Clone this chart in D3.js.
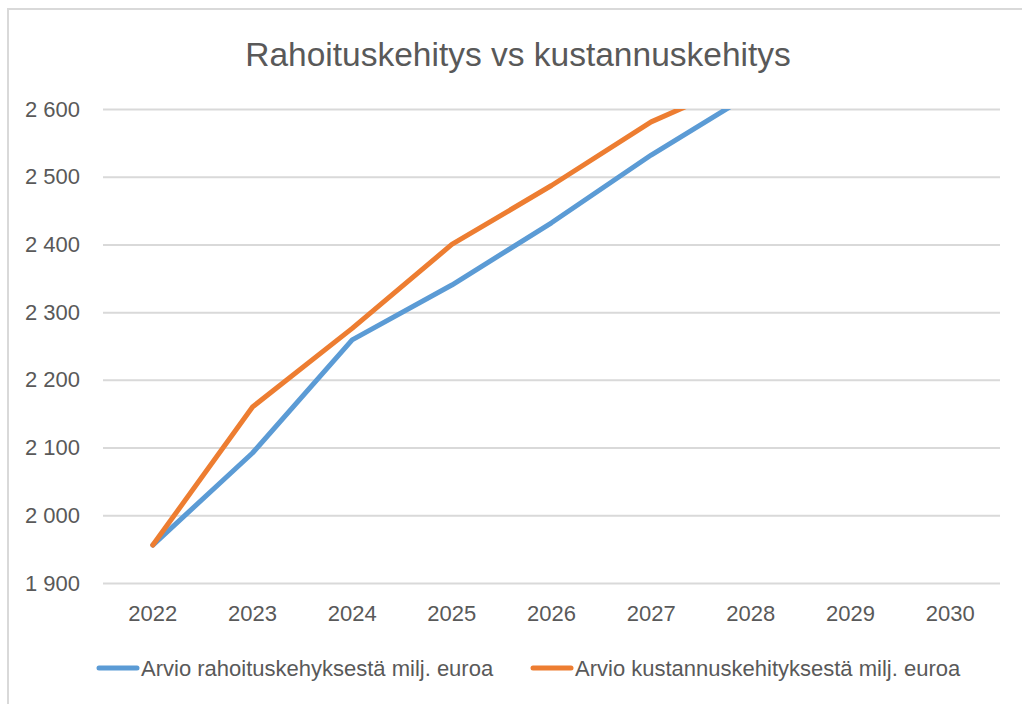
<!DOCTYPE html>
<html>
<head>
<meta charset="utf-8">
<script src="https://cdn.jsdelivr.net/npm/d3@7"></script>
<style>
    body { margin: 0; background: #fff; }
    svg { display: block; font-family: "Liberation Sans", Arial, sans-serif; }
</style>
</head>
<body>
<svg id="chart"></svg>
<script>
var years = ['2022', '2023', '2024', '2025', '2026', '2027', '2028', '2029', '2030'];
// values; the lines leave the plot above 2 600,
// so the last years cannot be read and are left empty
var rahoitus = [1956, 2092, 2259, 2340, 2432, 2532, 2622, null, null];
var kustannus = [1956, 2160, 2276, 2400, 2487, 2581, 2646, null, null];
var seriesNames = ['Arvio rahoituskehyksestä milj. euroa', 'Arvio kustannuskehityksestä milj. euroa'];
var yTicks = [1900, 2000, 2100, 2200, 2300, 2400, 2500, 2600];
var title = 'Rahoituskehitys vs kustannuskehitys';

var width = 1022, height = 704;
var plot = {left: 103, right: 1000, top: 109, bottom: 583};
var colors = ['#5b9bd5', '#ed7d31'];
var textColor = '#595959', gridColor = '#d9d9d9';

var fi = d3.formatLocale({decimal: ',', thousands: '\u00a0', grouping: [3], currency: ['', ' €']});
var fmt = fi.format(',');

var svg = d3.select('#chart')
    .attr('width', width)
    .attr('height', height);

// chart area border (only top and left are inside the picture)
svg.append('rect')
    .attr('x', 8).attr('y', 9)
    .attr('width', width + 20).attr('height', height + 20)
    .attr('fill', '#fff')
    .attr('stroke', gridColor)
    .attr('stroke-width', 2);

var x = d3.scaleBand().domain(years).range([plot.left, plot.right]).padding(0);
var y = d3.scaleLinear().domain([1900, 2600]).range([plot.bottom, plot.top]);

// title
svg.append('text')
    .attr('x', 518).attr('y', 66)
    .attr('text-anchor', 'middle')
    .attr('fill', textColor)
    .style('font-size', '33.5px')
    .text(title);

// y axis with gridlines
var yAxis = svg.append('g')
    .attr('class', 'axisY')
    .attr('transform', 'translate(' + plot.left + ',0)')
    .call(d3.axisLeft(y).tickValues(yTicks).tickFormat(fmt)
        .tickSize(-(plot.right - plot.left)).tickPadding(23));
yAxis.select('.domain').remove();
yAxis.selectAll('line').attr('stroke', gridColor).attr('stroke-width', 2);
yAxis.selectAll('text')
    .attr('fill', textColor)
    .style('font-size', '22px')
    .style('font-family', '"Liberation Sans", Arial, sans-serif');

// x axis labels
var xAxis = svg.append('g')
    .attr('class', 'axisX')
    .attr('transform', 'translate(0,' + plot.bottom + ')')
    .call(d3.axisBottom(x).tickSize(0).tickPadding(22));
xAxis.select('.domain').remove();
xAxis.selectAll('text')
    .attr('fill', textColor)
    .style('font-size', '22px')
    .style('font-family', '"Liberation Sans", Arial, sans-serif');

// lines, clipped at the top of the plot like the original
svg.append('clipPath').attr('id', 'plotClip')
    .append('rect')
    .attr('x', 0).attr('y', plot.top)
    .attr('width', width).attr('height', height - plot.top);

var line = d3.line()
    .defined(function(d) { return d != null; })
    .x(function(d, i) { return x(years[i]) + x.bandwidth() / 2; })
    .y(function(d) { return y(d); });

var lineGroup = svg.append('g').attr('clip-path', 'url(#plotClip)');
[rahoitus, kustannus].forEach(function(values, i) {
    lineGroup.append('path')
        .datum(values)
        .attr('d', line)
        .attr('fill', 'none')
        .attr('stroke', colors[i])
        .attr('stroke-width', 5)
        .attr('stroke-linejoin', 'round')
        .attr('stroke-linecap', 'round');
});

// legend
var legendPos = [{x: 99, w: 38}, {x: 533, w: 38}];
var legend = svg.selectAll('.legend')
    .data(seriesNames)
    .enter().append('g')
    .attr('class', 'legend')
    .attr('transform', function(d, i) { return 'translate(' + legendPos[i].x + ',668)'; });

legend.append('line')
    .attr('x1', 0)
    .attr('x2', function(d, i) { return legendPos[i].w; })
    .attr('stroke', function(d, i) { return colors[i]; })
    .attr('stroke-width', 5)
    .attr('stroke-linecap', 'round');

legend.append('text')
    .attr('x', function(d, i) { return legendPos[i].w + 4; })
    .attr('dy', '0.36em')
    .attr('fill', textColor)
    .style('font-size', '22px')
    .text(function(d) { return d; });
</script>
</body>
</html>
